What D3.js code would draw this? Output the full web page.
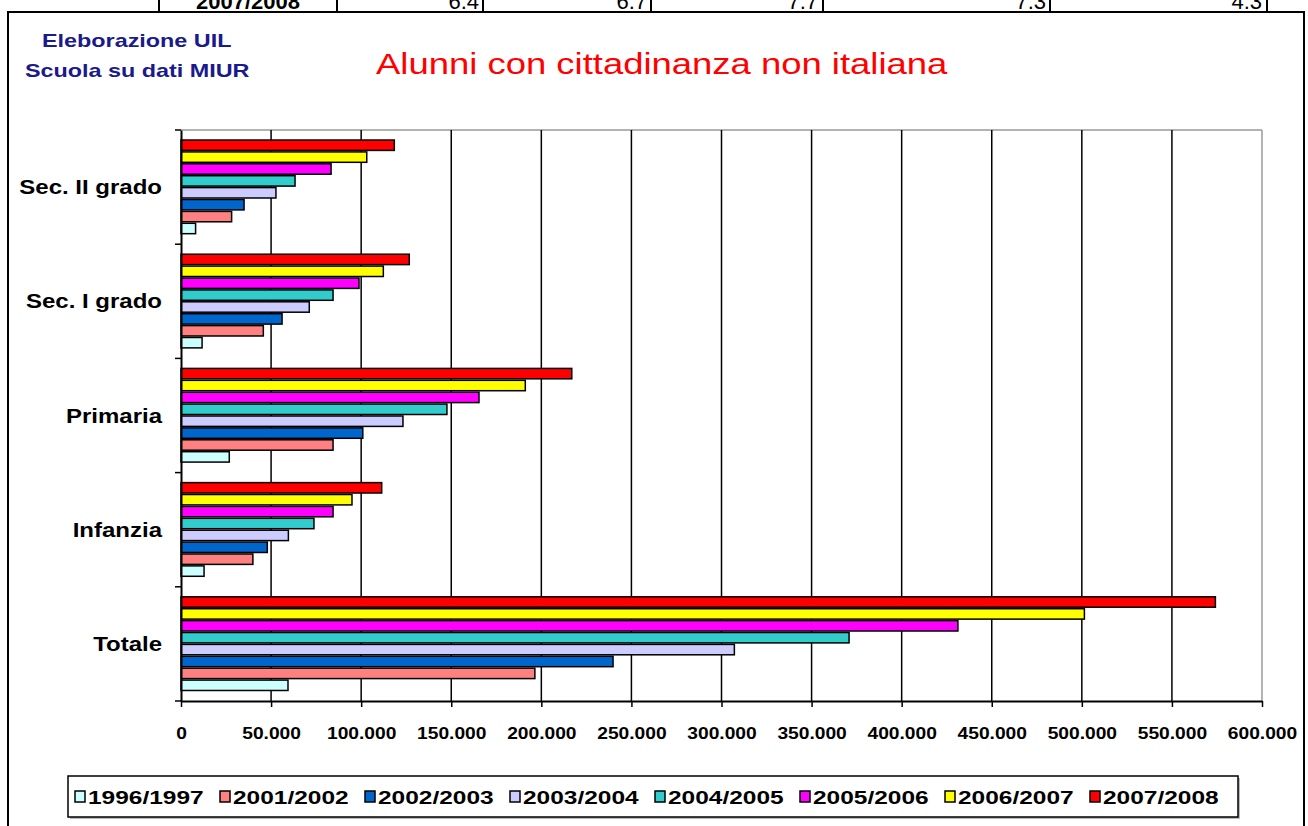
<!DOCTYPE html>
<html><head><meta charset="utf-8">
<script src="https://cdn.jsdelivr.net/npm/d3@7/dist/d3.min.js"></script>
<style>
html,body{margin:0;padding:0;background:#fff;}
svg{display:block;}
text{font-family:"Liberation Sans",Arial,sans-serif;}
</style></head>
<body>
<svg id="c" width="1308" height="826"></svg>
<script>
// ---- data ----
const categories = ["Totale", "Infanzia", "Primaria", "Sec. I grado", "Sec. II grado"];
const seriesNames = ["1996/1997","2001/2002","2002/2003","2003/2004","2004/2005","2005/2006","2006/2007","2007/2008"];
const seriesColors = ["#CCFFFF","#FF8080","#0066CC","#CCCCFF","#33CCCC","#FF00FF","#FFFF00","#FF0000"];
// values in category order: Totale, Infanzia, Primaria, Sec. I grado, Sec. II grado
const v1996 = [59389, 12800, 26800, 11700, 8100];
const v2001 = [196414, 39900, 84400, 45700, 28100];
const v2002 = [239808, 47900, 100900, 56100, 35000];
const v2003 = [307141, 59600, 123200, 71200, 52700];
const v2004 = [370803, 73800, 147600, 84400, 63300];
const v2005 = [431211, 84400, 165400, 98800, 83300];
const v2006 = [501420, 94900, 191100, 112300, 103100];
const v2007 = [574133, 111400, 216900, 126700, 118400];
const seriesValues = [v1996, v2001, v2002, v2003, v2004, v2005, v2006, v2007];
const tickValues = [0,50000,100000,150000,200000,250000,300000,350000,400000,450000,500000,550000,600000];
const tickLabels = ["0","50.000","100.000","150.000","200.000","250.000","300.000","350.000","400.000","450.000","500.000","550.000","600.000"];
const titleText = "Alunni con cittadinanza non italiana";
const sourceLines = ["Eleborazione UIL", "Scuola su dati MIUR"];
// cut-off table row above the chart
const tableRow = ["2007/2008", "6.4", "6.7", "7.7", "7.3", "4.3"];

// ---- layout ----
const SX = 1.2; // horizontal stretch of text as in the reference
const svg = d3.select("#c");
const L = 181, R = 1262, T = 130, B = 701;

function stext(g, x, y, str, opts) {
  const t = g.append("text")
    .attr("transform", `translate(${x},${y}) scale(${opts.sx || SX},1)`)
    .attr("text-anchor", opts.anchor || "start")
    .attr("font-size", opts.size)
    .attr("font-weight", opts.weight || "normal")
    .attr("fill", opts.fill || "#000")
    .text(str);
  if (opts.family) t.style("font-family", opts.family);
  return t;
}

// table fragment at top
const tbl = svg.append("g");
[159, 337, 483, 651, 823, 1050, 1267].forEach(x => {
  tbl.append("line").attr("x1", x).attr("x2", x).attr("y1", 0).attr("y2", 12)
    .attr("stroke", "#000").attr("stroke-width", 2);
});
stext(tbl, 248, 9, tableRow[0], {size: 22, weight: "bold", anchor: "middle", sx: 1.0});
const rightEdges = [479, 647, 818, 1046, 1262];
tableRow.slice(1).forEach((s, i) => stext(tbl, rightEdges[i], 9, s, {size: 22, anchor: "end", sx: 1.0}));

// chart frame
svg.append("rect").attr("x", 8).attr("y", 12).attr("width", 1296).attr("height", 830)
  .attr("fill", "none").attr("stroke", "#000").attr("stroke-width", 2);

// source + title
stext(svg, 42, 47, sourceLines[0], {size: 19, weight: "bold", fill: "#1A1A8C", sx: 1.23});
stext(svg, 25, 77, sourceLines[1], {size: 19, weight: "bold", fill: "#1A1A8C", sx: 1.23});
stext(svg, 376, 74, titleText, {size: 30, fill: "#FF0000", sx: 1.215});

// scales
const x = d3.scaleLinear().domain([0, 600000]).range([L, R]);
const y = d3.scaleBand().domain(categories.slice().reverse()).range([T, B]).paddingInner(0).paddingOuter(0);
const ys = d3.scaleBand().domain(seriesNames.slice().reverse()).range([0, y.bandwidth()])
  .paddingInner(0).paddingOuter(0.8);

// plot area border (gray top/right)
svg.append("line").attr("x1", L).attr("x2", R).attr("y1", T).attr("y2", T).attr("stroke", "#9a9a9a").attr("stroke-width", 1.5);
// gridlines
svg.append("g").selectAll("line").data(tickValues.slice(1)).join("line")
  .attr("x1", d => x(d)).attr("x2", d => x(d)).attr("y1", T).attr("y2", B)
  .attr("stroke", (d, i) => i === tickValues.length - 2 ? "#9a9a9a" : "#000").attr("stroke-width", 1.5);

// bars
const bars = svg.append("g");
seriesNames.forEach((s, si) => {
  bars.selectAll(null).data(categories.map((c, ci) => ({c, v: seriesValues[si][ci]}))).join("rect")
    .attr("x", x(0))
    .attr("y", d => y(d.c) + ys(s) + 0.5)
    .attr("width", d => x(d.v) - x(0))
    .attr("height", ys.bandwidth() - 1.5)
    .attr("fill", seriesColors[si])
    .attr("stroke", "#000").attr("stroke-width", 1.5);
});

// x axis
const xAxis = d3.axisBottom(x).tickValues(tickValues).tickFormat((d, i) => tickLabels[i]).tickSize(6).tickSizeOuter(0);
const gx = svg.append("g").attr("transform", `translate(0,${B})`).call(xAxis);
gx.select(".domain").attr("stroke", "#000").attr("stroke-width", 2);
gx.selectAll(".tick line").attr("stroke", "#000").attr("stroke-width", 1.5);
gx.selectAll(".tick text").remove();
gx.selectAll(".tick").each(function(d, i) {
  stext(d3.select(this), 0, 38, tickLabels[i], {size: 16, weight: "bold", anchor: "middle"});
});

// y axis
const yAxis = d3.axisLeft(y).tickSize(0).tickSizeOuter(0);
const gy = svg.append("g").attr("transform", `translate(${L},0)`).call(yAxis);
gy.select(".domain").attr("stroke", "#000").attr("stroke-width", 2);
gy.selectAll(".tick text").remove();
gy.selectAll(".tick").each(function(d) {
  stext(d3.select(this), -19, 7, d, {size: 20, weight: "bold", anchor: "end"});
});
// band boundary ticks
const bounds = categories.map(c => y(c)).concat([B]);
svg.append("g").selectAll("line").data(bounds).join("line")
  .attr("x1", L - 6).attr("x2", L).attr("y1", d => d).attr("y2", d => d)
  .attr("stroke", "#000").attr("stroke-width", 1.5);

// legend
const lg = svg.append("g");
lg.append("rect").attr("x", 70).attr("y", 778).attr("width", 1170).attr("height", 41).attr("fill", "#bbb");
lg.append("rect").attr("x", 68).attr("y", 776).attr("width", 1170).attr("height", 41)
  .attr("fill", "#fff").attr("stroke", "#000").attr("stroke-width", 1.5);
seriesNames.forEach((s, i) => {
  const lx = 75 + i * 145;
  lg.append("rect").attr("x", lx).attr("y", 791).attr("width", 10).attr("height", 11)
    .attr("fill", seriesColors[i]).attr("stroke", "#000").attr("stroke-width", 1.5);
  stext(lg, lx + 13, 804, s, {size: 18, weight: "bold", sx: 1.36});
});
</script>
</body></html>
